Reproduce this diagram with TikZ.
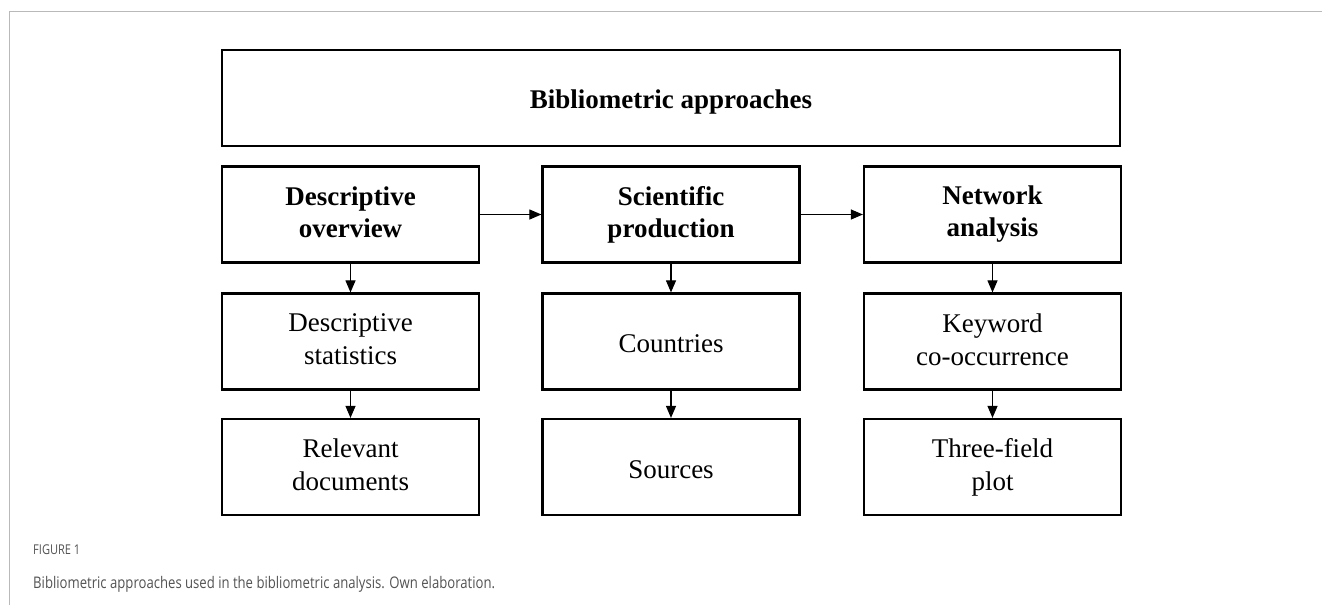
\documentclass[tikz,border=0pt]{standalone}
\usepackage{fontspec}
\setmainfont{Liberation Serif}
\newfontfamily\capfont[FakeStretch=0.82]{Open Sans}
\usetikzlibrary{arrows.meta}
\newcommand{\boxstrut}{\rule[-4pt]{0pt}{30pt}}
\tikzset{
	boxnode/.style={draw, line width=2.2pt, minimum width=257pt, minimum height=96pt, align=center, inner sep=0pt,
		font=\fontsize{27}{33}\selectfont, execute at begin node={\boxstrut}, execute at end node={\boxstrut}},
	headnode/.style={boxnode, font=\fontsize{27}{32}\selectfont\bfseries},
	link/.style={-{Triangle[length=12pt,width=10pt]}, line width=1.1pt}
}
\begin{document}
\begin{tikzpicture}[x=1pt, y=-1pt]
			\useasboundingbox (0,0) rectangle (1322,605);
			\draw[gray!55, line width=1pt] (1322,11) -- (9,11) -- (9,605);
			\node[headnode, minimum width=898pt] (top) at (671,98) {Bibliometric approaches};
			\node[headnode] (desc) at (350.5,214.5) {Descriptive\\overview};
			\node[headnode] (sci) at (671,214.5) {Scientific\\production};
			\node[headnode] (net) at (992.5,214.5) {Network\\analysis};
			\node[boxnode] (stat) at (350.5,341.5) {Descriptive\\statistics};
			\node[boxnode] (countries) at (671,341.5) {Countries};
			\node[boxnode] (keyword) at (992.5,341.5) {Keyword\\co-occurrence};
			\node[boxnode] (docs) at (350.5,467) {Relevant\\documents};
			\node[boxnode] (sources) at (671,467) {Sources};
			\node[boxnode] (field) at (992.5,467) {Three-field\\plot};
			\draw[link] (desc) -- (sci);
			\draw[link] (sci) -- (net);
			\foreach \a\b in {desc/stat,stat/docs,sci/countries,countries/sources,net/keyword,keyword/field}{
				\draw[link] (\a) -- (\b);
			}
			\node[anchor=base west, inner sep=0pt, text=black!68, font=\capfont\fontsize{13.5}{15}\selectfont] (figno) at (33,554) {FIGURE 1};
			\node[anchor=base west, inner sep=0pt, text=black!68, font=\capfont\fontsize{16}{18}\selectfont] (caption) at (33,588) {Bibliometric approaches used in the bibliometric analysis. Own elaboration.};
		\end{tikzpicture}
\end{document}
